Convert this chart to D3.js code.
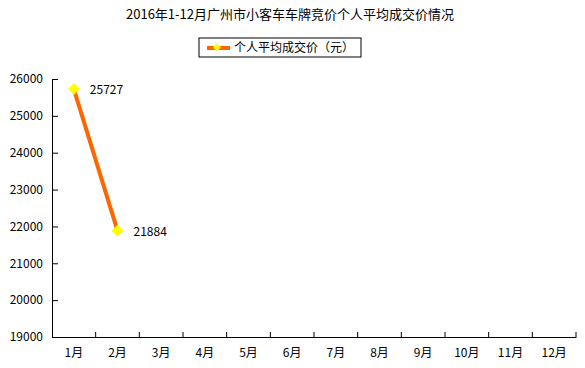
<!DOCTYPE html>
<html>
<head>
<meta charset="utf-8">
<script src="https://cdn.jsdelivr.net/npm/d3@7"></script>
<style>
  body { margin: 0; background: #fff; }
  text { font-family: "Noto Sans CJK SC", sans-serif; fill: #000; }
</style>
</head>
<body>
<div id="chart"></div>
<script>
// Data
const months = ["1月", "2月", "3月", "4月", "5月", "6月", "7月", "8月", "9月", "10月", "11月", "12月"];
const prices = [25727, 21884];
const yTicks = [19000, 20000, 21000, 22000, 23000, 24000, 25000, 26000];
const seriesName = "个人平均成交价（元）";
const title = "2016年1-12月广州市小客车车牌竞价个人平均成交价情况";

const W = 585, H = 368;
const margin = { top: 79, right: 9, bottom: 31, left: 52 };
const width = W - margin.left - margin.right;
const height = H - margin.top - margin.bottom;

const root = d3.select("#chart").append("svg")
    .attr("width", W)
    .attr("height", H);

root.append("text")
    .attr("x", 290)
    .attr("y", 19)
    .attr("text-anchor", "middle")
    .style("font-size", "13px")
    .text(title);

// Legend
const legend = root.append("g").attr("transform", "translate(199,38)");
legend.append("rect")
    .attr("width", 162).attr("height", 19)
    .attr("fill", "#fff").attr("stroke", "#000").attr("stroke-width", 1);
legend.append("line")
    .attr("x1", 8).attr("x2", 31).attr("y1", 10).attr("y2", 10)
    .attr("stroke", "#ff6600").attr("stroke-width", 4);
legend.append("path")
    .attr("d", d3.symbol(d3.symbolDiamond2, 40)())
    .attr("transform", "translate(18,9.5)")
    .attr("fill", "#ffff00");
legend.append("text")
    .attr("x", 35).attr("y", 14)
    .style("font-size", "12px")
    .text(seriesName);

const svg = root.append("g")
    .attr("transform", `translate(${margin.left},${margin.top})`);

const x = d3.scaleBand().domain(months).range([0, width]);
const y = d3.scaleLinear().domain([19000, 26000]).range([height, 0]);

// Axes
const yAxis = svg.append("g")
    .call(d3.axisLeft(y).tickValues(yTicks).tickFormat(d3.format("d"))
        .tickSize(-6).tickPadding(9).tickSizeOuter(0));
yAxis.select(".domain").attr("stroke", "#000");
yAxis.selectAll("text").style("font-size", "12px");

const xAxis = svg.append("g")
    .attr("transform", `translate(0,${height})`)
    .call(d3.axisBottom(x).tickSize(0).tickPadding(11).tickSizeOuter(0));
xAxis.select(".domain").attr("stroke", "#000");
xAxis.selectAll("text").style("font-size", "12px");

// Tick marks between categories
svg.append("g")
    .selectAll("line")
    .data(months)
    .join("line")
    .attr("x1", d => x(d) + x.bandwidth())
    .attr("x2", d => x(d) + x.bandwidth())
    .attr("y1", height)
    .attr("y2", height - 5)
    .attr("stroke", "#000");

const data = prices.map((v, i) => ({ month: months[i], value: v }));
const cx = d => x(d.month) + x.bandwidth() / 2;

svg.append("path")
    .datum(data)
    .attr("fill", "none")
    .attr("stroke", "#ff6600")
    .attr("stroke-width", 4)
    .attr("d", d3.line().x(cx).y(d => y(d.value)));

svg.selectAll(".marker")
    .data(data)
    .join("path")
    .attr("class", "marker")
    .attr("d", d3.symbol(d3.symbolDiamond2, 90)())
    .attr("transform", d => `translate(${cx(d)},${y(d.value)})`)
    .attr("fill", "#ffff00");

svg.selectAll(".label")
    .data(data)
    .join("text")
    .attr("class", "label")
    .attr("x", d => cx(d) + 16)
    .attr("y", d => y(d.value) + 5)
    .style("font-size", "12px")
    .text(d => d.value);
</script>
</body>
</html>
